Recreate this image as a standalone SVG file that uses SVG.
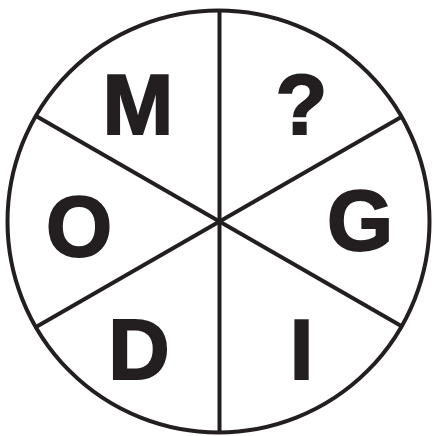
<svg xmlns="http://www.w3.org/2000/svg" width="433" height="436" viewBox="0 0 433 436">
<style>
.ln{stroke:#231f20;stroke-width:4;fill:none}
.lt{font-family:"Liberation Sans",Arial,sans-serif;font-weight:bold;font-size:85px;fill:#231f20;stroke:#231f20;stroke-width:2;stroke-linejoin:miter;text-anchor:middle}
</style>
<rect width="433" height="436" fill="#fff"/>
<g id="connectors">
<circle class="ln" cx="218.5" cy="221.5" r="211"/>
<line class="ln" x1="219.5" y1="10" x2="219.5" y2="433"/>
<line class="ln" x1="36" y1="116" x2="403" y2="327"/>
<line class="ln" x1="36" y1="327" x2="403" y2="116"/>
</g>
<g id="node-M"><text class="lt" x="138" y="134">M</text></g>
<g id="node-Q"><text class="lt" x="301.5" y="134">?</text></g>
<g id="node-O"><text class="lt" x="79" y="256">O</text></g>
<g id="node-G"><text class="lt" x="360" y="250">G</text></g>
<g id="node-D"><text class="lt" x="139" y="379">D</text></g>
<g id="node-I"><text class="lt" x="301.5" y="379">I</text></g>
</svg>
